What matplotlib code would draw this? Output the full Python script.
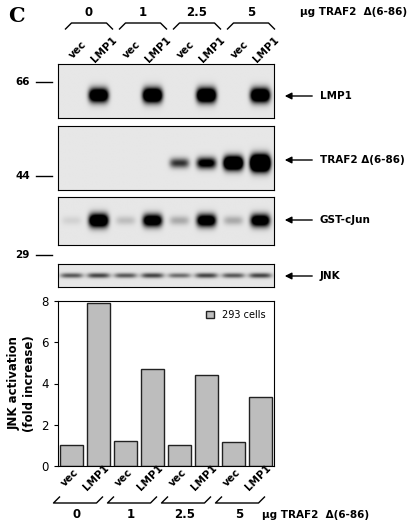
import numpy as np
import matplotlib
matplotlib.use('Agg')
import matplotlib.pyplot as plt

W, H = 407, 524
doses = ['0', '1', '2.5', '5']
lanes = ['vec', 'LMP1'] * 4
jnk_fold = [1.0, 7.9, 1.2, 4.7, 1.0, 4.4, 1.15, 3.35]

# band strengths per lane for each blot
lmp1_band = [0.0, 1.0, 0.0, 1.1, 0.0, 1.1, 0.0, 1.05]
traf2_band = [0.0, 0.0, 0.0, 0.0, 0.45, 0.7, 1.2, 1.6]
cjun_band = [0.05, 1.0, 0.1, 0.85, 0.15, 0.85, 0.15, 0.85]
jnk_band = [0.35, 0.4, 0.35, 0.4, 0.3, 0.4, 0.35, 0.4]

plt.rcParams['font.family'] = 'DejaVu Sans'
fig = plt.figure(figsize=(W / 100, H / 100), dpi=100)


def px(x0, y0, x1, y1):
    return fig.add_axes([x0 / W, 1 - y1 / H, (x1 - x0) / W, (y1 - y0) / H])


def fx(x, y):
    return x / W, 1 - y / H


def blot(ax, strengths, ypos, sy, sx=0.36):
    xs = np.linspace(-0.5, 7.5, 400)
    ys = np.linspace(0, 1, 120)
    X, Y = np.meshgrid(xs, ys)
    img = np.full_like(X, 0.06)
    for i, s in enumerate(strengths):
        img += s * np.exp(-((X - i) / sx) ** 4 - ((Y - ypos) / (sy * (0.6 + 0.4 * s))) ** 2)
    img = np.clip(img * 1.6, 0, 1)
    ax.imshow(img, extent=(-0.5, 7.5, 0, 1), origin='lower', cmap='gray_r',
              vmin=0, vmax=1, aspect='auto')
    ax.set_xticks([])
    ax.set_yticks([])


X0, X1 = 58, 274
blot(px(X0, 64, X1, 118), lmp1_band, 0.42, 0.13)
blot(px(X0, 126, X1, 190), traf2_band, 0.42, 0.1)
blot(px(X0, 197, X1, 245), cjun_band, 0.5, 0.14)
blot(px(X0, 264, X1, 287), jnk_band, 0.5, 0.15, sx=0.42)

ax = px(X0, 301, X1, 466)
ax.bar(range(8), jnk_fold, width=0.82, color='#bdbdbd', edgecolor='#222222', lw=1,
       label='293 cells')
ax.set_xlim(-0.5, 7.5)
ax.set_ylim(0, 8)
ax.set_yticks([0, 2, 4, 6, 8])
ax.set_xticks([])
ax.tick_params(labelsize=8.5, length=3)
ax.set_ylabel('JNK activation\n(fold increase)', fontsize=8.5, fontweight='bold')
ax.legend(loc='upper right', frameon=False, fontsize=7, handlelength=0.8, handleheight=0.8)

fig.text(*fx(8, 16), 'C', fontsize=15, fontweight='bold', family='DejaVu Serif', va='center')

lane_x = [X0 + (X1 - X0) * (i + 0.5) / 8 for i in range(8)]
for top in (True, False):
    ly = 50 if top else 478
    by = 25 if top else 503
    ny = 12 if top else 515
    for i, lab in enumerate(lanes):
        fig.text(*fx(lane_x[i] + (6 if top else -2), ly), lab, rotation=45, fontsize=7.5,
                 fontweight='bold', ha='center', va='center')
    for g, d in enumerate(doses):
        xa, xb = lane_x[2 * g] - 10, lane_x[2 * g + 1] + 10
        if top:
            xs_, ys_ = [xa + 4, xa + 10, xb - 2, xb + 4], [by + 4, by - 2, by - 2, by + 4]
        else:
            xs_, ys_ = [xa - 2, xa - 8, xb - 12, xb - 6], [by - 6, by, by, by - 6]
        fig.add_artist(plt.Line2D([x / W for x in xs_], [1 - y / H for y in ys_],
                                  color='black', lw=1))
        fig.text(*fx((xa + xb) / 2 + (4 if top else -8), ny), d, fontsize=8.5,
                 fontweight='bold', ha='center', va='center')
    fig.text(*fx(300 if top else 262, ny), 'µg TRAF2  Δ(6-86)', fontsize=7.5,
             fontweight='bold', va='center')

for lab, y in [('LMP1', 96), ('TRAF2 Δ(6-86)', 160), ('GST-cJun', 220), ('JNK', 276)]:
    fig.add_artist(matplotlib.patches.FancyArrowPatch(fx(315, y), fx(282, y),
                   arrowstyle='-|>', mutation_scale=10, color='black', lw=1))
    fig.text(*fx(320, y), lab, fontsize=7.5, fontweight='bold', va='center')

for lab, y in [('66', 82), ('44', 176), ('29', 255)]:
    fig.text(*fx(30, y), lab, fontsize=7.5, fontweight='bold', va='center', ha='right')
    fig.add_artist(plt.Line2D([36 / W, 52 / W], [1 - y / H] * 2, color='black', lw=1))

fig.savefig('out.png', dpi=100)
